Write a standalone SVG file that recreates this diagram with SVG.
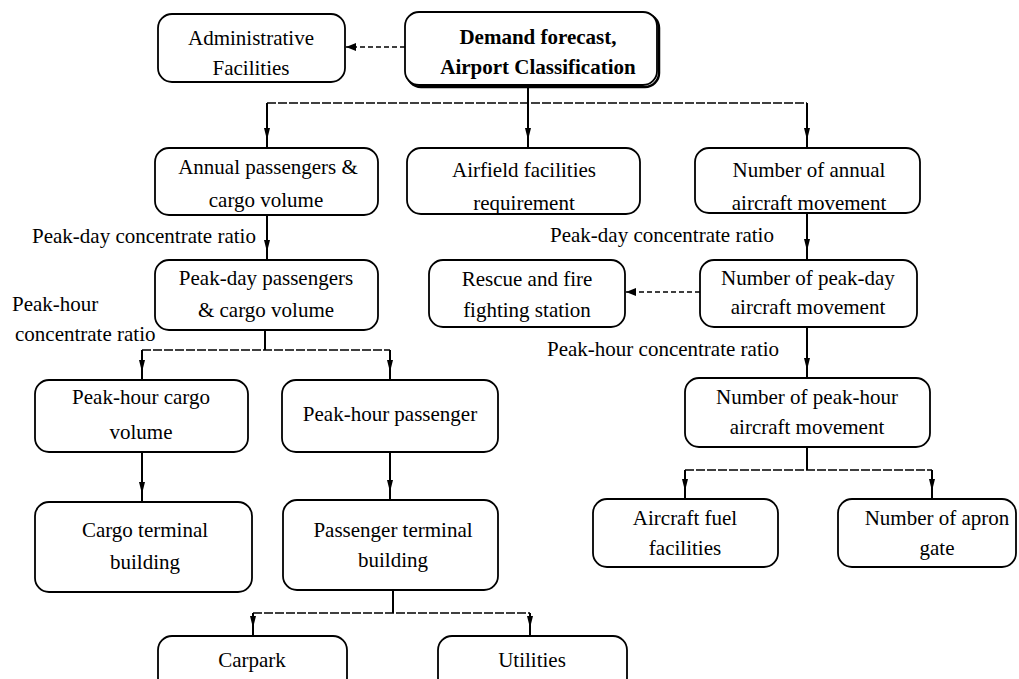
<svg xmlns="http://www.w3.org/2000/svg" width="1019" height="679" viewBox="0 0 1019 679">
<style>
.box{fill:#fff;stroke:#000;stroke-width:1.8}
.t{font-family:"Liberation Serif","Times New Roman",serif;font-size:21px;fill:#000;text-anchor:middle}
.tb{font-weight:bold}
.lbl{font-family:"Liberation Serif","Times New Roman",serif;font-size:21px;fill:#000}
.v{fill:none;stroke:#000;stroke-width:2}
.h{fill:none;stroke:#000;stroke-width:1.3;stroke-dasharray:9 2}
.d{fill:none;stroke:#000;stroke-width:1.3;stroke-dasharray:5 3}
</style>
<defs>
<marker id="ah" viewBox="0 0 12 8" refX="12" refY="4" markerWidth="12" markerHeight="8" markerUnits="userSpaceOnUse" orient="auto"><path d="M0,1 L12,4 L0,7 z" fill="#000"/></marker>
<marker id="ahh" viewBox="0 0 10 8" refX="10" refY="4" markerWidth="10" markerHeight="8" markerUnits="userSpaceOnUse" orient="auto"><path d="M0,0 L10,4 L0,8 z" fill="#000"/></marker>
</defs>
<rect width="1019" height="679" fill="#fff"/>
<g id="connectors">
<path class="d" d="M405,47 H346" marker-end="url(#ahh)"/>
<path class="v" d="M528,86 V103"/>
<path class="h" d="M267,103 H807"/>
<path class="v" d="M267,103 V140 V148" marker-mid="url(#ah)"/>
<path class="v" d="M528,103 V140 V148" marker-mid="url(#ah)"/>
<path class="v" d="M807,103 V140 V148" marker-mid="url(#ah)"/>
<path class="v" d="M267,215 V252 V260" marker-mid="url(#ah)"/>
<path class="v" d="M807,213 V251 V260" marker-mid="url(#ah)"/>
<path class="d" d="M700,292 H626" marker-end="url(#ahh)"/>
<path class="v" d="M265,330 V350"/>
<path class="h" d="M142,350 H390"/>
<path class="v" d="M142,350 V372 V380" marker-mid="url(#ah)"/>
<path class="v" d="M390,350 V372 V380" marker-mid="url(#ah)"/>
<path class="v" d="M142,452 V494 V502" marker-mid="url(#ah)"/>
<path class="v" d="M390,452 V492 V500" marker-mid="url(#ah)"/>
<path class="v" d="M807,327 V370 V378" marker-mid="url(#ah)"/>
<path class="v" d="M807,447 V470"/>
<path class="h" d="M685,470 H932"/>
<path class="v" d="M685,470 V491 V499" marker-mid="url(#ah)"/>
<path class="v" d="M932,470 V491 V499" marker-mid="url(#ah)"/>
<path class="v" d="M393,590 V613"/>
<path class="h" d="M253,613 H530"/>
<path class="v" d="M253,613 V628 V636" marker-mid="url(#ah)"/>
<path class="v" d="M530,613 V628 V636" marker-mid="url(#ah)"/>
</g>
<g id="labels">
<text class="lbl" x="32" y="243">Peak-day concentrate ratio</text>
<text class="lbl" x="12" y="311">Peak-hour</text>
<text class="lbl" x="15" y="341">concentrate ratio</text>
<text class="lbl" x="550" y="242">Peak-day concentrate ratio</text>
<text class="lbl" x="547" y="356">Peak-hour concentrate ratio</text>
</g>
<g id="admin">
<rect class="box" x="158" y="14" width="187" height="68" rx="14"/>
<text class="t" x="251" y="45">Administrative</text>
<text class="t" x="251" y="75">Facilities</text>
</g>
<g id="demand">
<rect x="407" y="14" width="252" height="73" rx="14" fill="none" stroke="#000" stroke-width="2.5"/>
<rect class="box" x="405" y="12" width="252" height="73" rx="14"/>
<text class="t tb" x="538" y="44">Demand forecast,</text>
<text class="t tb" x="538" y="74">Airport Classification</text>
</g>
<g id="annual">
<rect class="box" x="155" y="148" width="223" height="67" rx="14"/>
<text class="t" x="268" y="174">Annual passengers &amp;</text>
<text class="t" x="266" y="207">cargo volume</text>
</g>
<g id="airfield">
<rect class="box" x="407" y="148" width="233" height="66" rx="14"/>
<text class="t" x="524" y="177">Airfield facilities</text>
<text class="t" x="524" y="210">requirement</text>
</g>
<g id="annual-aircraft">
<rect class="box" x="695" y="148" width="225" height="65" rx="14"/>
<text class="t" x="809" y="177">Number of annual</text>
<text class="t" x="809" y="210">aircraft movement</text>
</g>
<g id="peakday-pax">
<rect class="box" x="155" y="260" width="223" height="70" rx="14"/>
<text class="t" x="266" y="285">Peak-day passengers</text>
<text class="t" x="266" y="317">&amp; cargo volume</text>
</g>
<g id="rescue">
<rect class="box" x="429" y="260" width="196" height="67" rx="14"/>
<text class="t" x="527" y="286">Rescue and fire</text>
<text class="t" x="527" y="317">fighting station</text>
</g>
<g id="peakday-aircraft">
<rect class="box" x="700" y="260" width="217" height="67" rx="14"/>
<text class="t" x="808" y="285">Number of  peak-day</text>
<text class="t" x="808" y="314">aircraft movement</text>
</g>
<g id="peakhour-cargo">
<rect class="box" x="35" y="380" width="213" height="72" rx="14"/>
<text class="t" x="141" y="404">Peak-hour cargo</text>
<text class="t" x="141" y="439">volume</text>
</g>
<g id="peakhour-pax">
<rect class="box" x="282" y="380" width="216" height="72" rx="14"/>
<text class="t" x="390" y="421">Peak-hour passenger</text>
</g>
<g id="peakhour-aircraft">
<rect class="box" x="685" y="378" width="245" height="69" rx="14"/>
<text class="t" x="807" y="404">Number of  peak-hour</text>
<text class="t" x="807" y="434">aircraft movement</text>
</g>
<g id="cargo-terminal">
<rect class="box" x="35" y="502" width="217" height="90" rx="14"/>
<text class="t" x="145" y="537">Cargo terminal</text>
<text class="t" x="145" y="569">building</text>
</g>
<g id="pax-terminal">
<rect class="box" x="283" y="500" width="215" height="90" rx="14"/>
<text class="t" x="393" y="537">Passenger terminal</text>
<text class="t" x="393" y="567">building</text>
</g>
<g id="fuel">
<rect class="box" x="593" y="499" width="185" height="68" rx="14"/>
<text class="t" x="685" y="525">Aircraft fuel</text>
<text class="t" x="685" y="555">facilities</text>
</g>
<g id="apron">
<rect class="box" x="838" y="499" width="178" height="68" rx="14"/>
<text class="t" x="937" y="525">Number of apron</text>
<text class="t" x="937" y="555">gate</text>
</g>
<g id="carpark">
<rect class="box" x="158" y="636" width="189" height="56" rx="14"/>
<text class="t" x="252" y="667">Carpark</text>
</g>
<g id="utilities">
<rect class="box" x="438" y="636" width="189" height="56" rx="14"/>
<text class="t" x="532" y="667">Utilities</text>
</g>
</svg>
